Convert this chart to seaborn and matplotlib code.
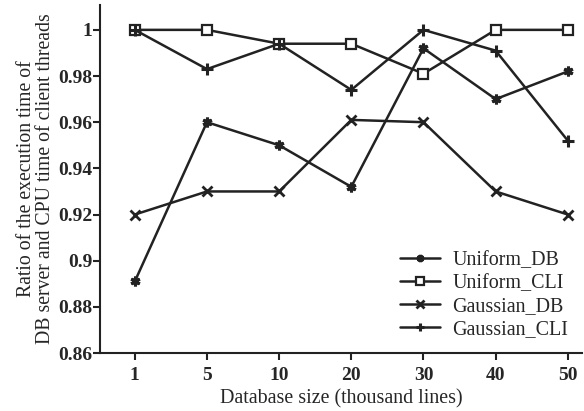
import matplotlib
matplotlib.use("Agg")
import matplotlib.pyplot as plt
import seaborn as sns
import pandas as pd

sizes = ["1", "5", "10", "20", "30", "40", "50"]
uniform_db = [0.891, 0.960, 0.950, 0.932, 0.992, 0.970, 0.982]
uniform_cli = [1.000, 1.000, 0.994, 0.994, 0.981, 1.000, 1.000]
gaussian_db = [0.920, 0.930, 0.930, 0.961, 0.960, 0.930, 0.920]
gaussian_cli = [1.000, 0.983, 0.994, 0.974, 1.000, 0.991, 0.952]
series_names = ["Uniform_DB", "Uniform_CLI", "Gaussian_DB", "Gaussian_CLI"]
yticks = [0.86, 0.88, 0.9, 0.92, 0.94, 0.96, 0.98, 1.0]
ytick_labels = ["0.86", "0.88", "0.9", "0.92", "0.94", "0.96", "0.98", "1"]

sns.set_style("ticks")
plt.rcParams["font.family"] = ["Liberation Serif", "DejaVu Serif"]

frames = []
for name, vals in zip(series_names, [uniform_db, uniform_cli, gaussian_db, gaussian_cli]):
    frames.append(pd.DataFrame({"size": sizes, "ratio": vals, "series": name}))
df = pd.concat(frames, ignore_index=True)

styles = {
    "Uniform_DB": dict(marker=(6, 2, 0), markersize=7, markeredgewidth=2.2),
    "Uniform_CLI": dict(marker="s", markersize=7, markerfacecolor="white", markeredgewidth=1.6),
    "Gaussian_DB": dict(marker="x", markersize=7, markeredgewidth=2.0),
    "Gaussian_CLI": dict(marker="+", markersize=8, markeredgewidth=2.2),
}

fig = plt.figure(figsize=(5.84, 4.11), dpi=100)
ax = fig.add_axes([0.171, 0.141, 0.826, 0.847])
color = "#222222"
for name in series_names:
    sub = df[df["series"] == name]
    sns.lineplot(data=sub, x="size", y="ratio", ax=ax, color=color, linewidth=1.8,
                 label=name, markeredgecolor=color, **styles[name])

ax.set_ylim(0.86, 1.0108)
ax.set_xlim(-0.484, 6.2)
ax.set_yticks(yticks)
ax.set_yticklabels(ytick_labels)
for s in ["top", "right"]:
    ax.spines[s].set_visible(False)
for s in ["left", "bottom"]:
    ax.spines[s].set_color(color)
    ax.spines[s].set_linewidth(1.5)
ax.tick_params(direction="out", length=5, width=1.5, color=color, labelsize=14)
ax.tick_params(axis="x", pad=5)
ax.tick_params(axis="y", pad=0.5)
for lbl in ax.get_xticklabels() + ax.get_yticklabels():
    lbl.set_fontweight("bold")
ax.set_xlabel("Database size (thousand lines)", fontsize=14.4, labelpad=4)
ax.set_ylabel("Ratio of the execution time of\nDB server and CPU time of client threads",
              fontsize=14.2, labelpad=2, linespacing=1.0)
ax.legend(loc="lower right", frameon=False, fontsize=14.4, handlelength=2.0,
          labelspacing=0.2, markerscale=0.75, handletextpad=0.6,
          bbox_to_anchor=(1.0, 0.0), borderaxespad=0.3)
fig.savefig("out.png", dpi=100)
